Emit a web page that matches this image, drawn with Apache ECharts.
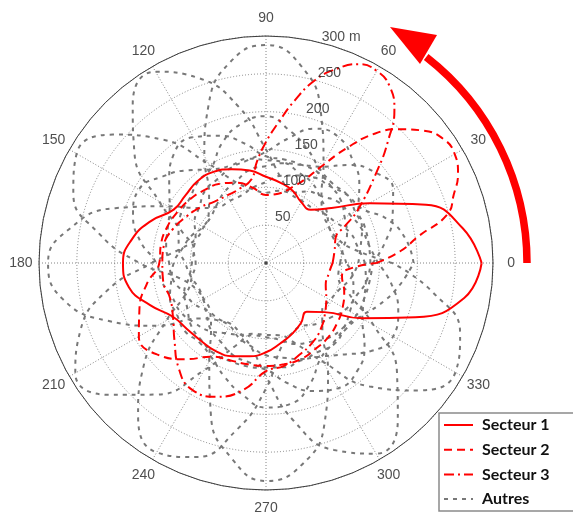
<!DOCTYPE html>
<html><head><meta charset="utf-8">
<script src="https://cdn.jsdelivr.net/npm/echarts@6/dist/echarts.min.js"></script>
<style>html,body{margin:0;padding:0;background:#fff}#c{width:573px;height:521px}</style>
</head><body><div id="c"></div>
<script>
// ---- tick labels ----
const angleTicks = [0,30,60,90,120,150,180,210,240,270,300,330];
const angleLabels = ['0','30','60','90','120','150','180','210','240','270','300','330'];
const radiusTicks = [50,100,150,200,250,300];
const radiusLabels = ['50','100','150','200','250','300 m'];

// ---- shared angle grid (degrees) ----
const gridAngles = [0,10,20,30,40,50,60,70,80,90,100,110,120,130,140,150,160,170,180,190,200,210,220,230,240,250,260,270,280,290,300,310,320,330,340,350];

// ---- Secteur 1 (radius in m on gridAngles) ----
const s1Radii = [285,264,225,158,113,92,93,102,108,114,124,132,139,141,139,141,162,180,189,184,163,142,136,134,134,131,125,118,108,100,92,84,101,146,210,266];

// ---- Secteur 2 ----
const s2Angles = [0,5,10,15,20,25,30,35,40,45,50,55,60,65,70,80,90,100,110,120,130,140,150,160,170,180,190,200,210,220,230,240,250,260,270,280,290,300,310,320,330,340,350,355];
const s2Radii  = [146,178,205,248,264,280,288,286,272,250,223,185,148,122,108,93,90,101,113,121,126,131,135,139,141,141,160,178,194,188,166,143,137,136,136,136,135,131,128,123,117,110,102,106];

// ---- Secteur 3 ----
const s3Angles = [0,10,20,25,30,40,45,50,55,60,65,70,75,80,85,90,95,100,110,120,130,140,150,160,170,180,190,200,210,220,230,240,250,260,270,280,290,300,310,320,330,340,350];
const s3Radii  = [88,92,98,115,140,193,228,264,285,293,290,273,250,218,186,160,135,112,104,103,106,114,122,131,137,137,138,135,142,158,180,194,188,170,143,138,129,122,113,102,92,84,84];

// ---- Autres (radius in m on gridAngles) ----
const autres90  = [106,101,95,96,99,114,152,212,265,288,270,222,163,117,99,96,105,112,122,127,135,136,140,137,144,160,177,191,189,170,145,138,134,128,123,117];
const autres120 = [131,123,118,107,101,95,95,97,114,150,210,260,292,274,227,163,117,97,98,103,115,120,129,133,138,138,139,141,161,180,191,187,170,147,138,134];
const autres150 = [148,138,134,128,125,115,109,99,97,93,99,113,151,213,264,289,271,224,167,116,99,96,103,114,120,129,133,138,140,137,143,158,181,194,186,169];
const autres180 = [195,187,170,145,140,132,130,123,117,107,101,95,95,97,113,150,212,263,288,273,223,166,114,99,96,105,112,122,127,135,136,140,137,143,160,178];
const autres210 = [141,160,178,194,187,169,147,138,134,128,125,115,109,101,95,95,97,113,151,214,261,291,271,227,164,116,97,98,103,114,120,129,133,138,138,139];
const autres240 = [138,138,139,141,161,178,192,189,167,147,138,134,128,125,115,109,99,97,93,99,111,152,211,263,289,273,224,166,114,99,96,105,112,122,127,135];
const autres270 = [122,127,135,136,140,137,143,160,178,194,187,169,145,140,132,130,123,117,107,101,95,95,97,113,150,213,262,288,271,226,164,116,97,98,103,114];
const autres300 = [98,103,114,120,129,133,138,138,139,141,160,179,192,189,167,147,138,134,128,125,115,109,99,97,93,99,113,150,212,263,291,271,226,164,116,97];
const autres330 = [167,114,99,96,105,112,122,127,135,136,140,137,143,160,178,194,187,169,145,140,132,130,123,117,107,101,95,95,97,113,151,213,262,289,273,224];

function loop(angles, radii) {
  const pts = angles.map((a, i) => [radii[i], a]);
  pts.push([radii[0], angles[0] + 360]);
  return pts;
}

const RED = '#ff0000';
const GRAY = '#787878';
const series = [];
[autres90, autres120, autres150, autres180, autres210, autres240, autres270, autres300, autres330].forEach(r => {
  series.push({
    type: 'line', coordinateSystem: 'polar', name: 'Autres', data: loop(gridAngles, r),
    smooth: true, symbol: 'none', silent: true, z: 2,
    lineStyle: { color: GRAY, width: 2, type: [4, 5] }
  });
});
series.push({ type:'line', coordinateSystem:'polar', name:'Secteur 3', data: loop(s3Angles, s3Radii),
  smooth:true, symbol:'none', silent:true, z:3, lineStyle:{ color:RED, width:2, type:[10,4,2,4] } });
series.push({ type:'line', coordinateSystem:'polar', name:'Secteur 2', data: loop(s2Angles, s2Radii),
  smooth:true, symbol:'none', silent:true, z:3, lineStyle:{ color:RED, width:2, type:[8,5] } });
series.push({ type:'line', coordinateSystem:'polar', name:'Secteur 1', data: loop(gridAngles, s1Radii),
  smooth:true, symbol:'none', silent:true, z:4, lineStyle:{ color:RED, width:2, type:'solid' } });

// angle tick labels (centered at a fixed radius beyond the rim)
series.push({
  type:'scatter', coordinateSystem:'polar', silent:true, z:5, clip:false,
  data: angleTicks.map((a, i) => ({ name: angleLabels[i], value: [324, a] })),
  symbolSize: 1, itemStyle: { color: 'rgba(0,0,0,0)' },
  label: { show:true, position:'inside', formatter:'{b}', fontFamily:'Liberation Sans', fontSize:14, color:'#222' }
});
// radius tick labels along ~72 deg
series.push({
  type:'scatter', coordinateSystem:'polar', silent:true, z:5, clip:false,
  data: radiusTicks.map((r, i) => ({ name: radiusLabels[i], value: [r, 72] })),
  symbolSize: 1, itemStyle: { color: 'rgba(0,0,0,0)' },
  label: { show:true, position:'top', distance:2, offset:[5,0], formatter:'{b}', fontFamily:'Liberation Sans', fontSize:14, color:'#222' }
});
// centre point
series.push({
  type:'scatter', coordinateSystem:'polar', silent:true, z:5,
  data: [[0, 0]], symbolSize: 3, itemStyle: { color: '#222' }
});

const chart = echarts.init(document.getElementById('c'), null, { renderer: 'canvas' });
chart.setOption({
  animation: false,
  backgroundColor: '#fff',
  polar: { center: [266, 263], radius: 227 },
  angleAxis: {
    type:'value', min:0, max:360, interval:30, startAngle:0, clockwise:false,
    axisLine: { show:true, lineStyle:{ color:'#3c3c3c', width:1 } },
    axisTick: { show:false }, axisLabel: { show:false },
    splitLine: { show:true, lineStyle:{ color:'#666', width:0.8, type:[1,2] } }
  },
  radiusAxis: {
    type:'value', min:0, max:300, interval:50,
    axisLine:{ show:false }, axisTick:{ show:false }, axisLabel:{ show:false },
    splitLine: { show:true, lineStyle:{ color:'#666', width:0.8, type:[1,2] } }
  },
  legend: {
    data: ['Secteur 1','Secteur 2','Secteur 3','Autres'],
    orient:'vertical', left:439, top:413, padding:[4,40,4,4], itemGap:8.7,
    itemWidth:29, itemHeight:14, borderColor:'#8a8a8a', borderWidth:1.5, backgroundColor:'#fff',
    selectedMode:false,
    itemStyle:{ opacity:0 },
    textStyle:{ fontFamily:'Lato', fontWeight:'bold', fontSize:16, lineHeight:14, color:'#111', padding:[0,0,0,4] }
  },
  graphic: [
    { type:'arc', silent:true, shape:{ cx:266, cy:263, r:261, startAngle:0, endAngle:-0.91, clockwise:false },
      style:{ stroke:RED, lineWidth:7.5, fill:null } },
    { type:'polygon', silent:true, shape:{ points:[[390,27],[437,35],[420,64]] }, style:{ fill:RED } }
  ],
  series: series
});
</script>
</body></html>
